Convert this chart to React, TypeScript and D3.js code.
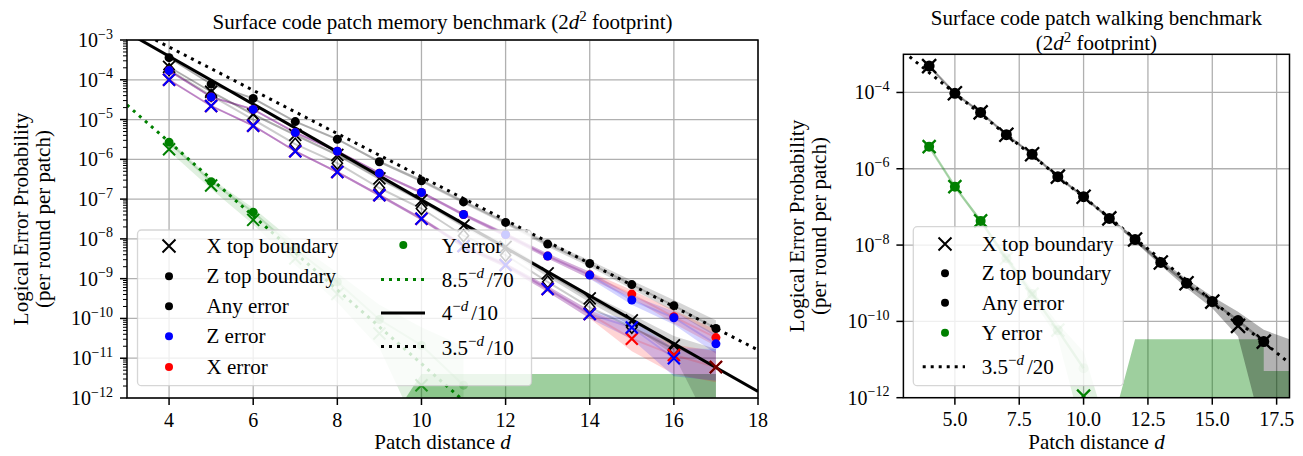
import React from 'react';
import * as d3 from 'd3';

const FONT = "'Liberation Serif', 'DejaVu Serif', serif";

// ---------- Left panel (memory benchmark) ----------
const distL = [4, 5, 6, 7, 8, 9, 10, 11, 12, 13, 14, 15, 16, 17];
// Z top boundary experiment
const anyZTop = [3.6e-4, 7.8e-5, 3.4e-5, 8.9e-6, 3.2e-6, 8.7e-7, 2.9e-7, 8.5e-8, 2.6e-8, 7.4e-9, 2.4e-9, 7.1e-10, 2.1e-10, 5.6e-11];
const anyZTopLo = [3.4e-4, 7.4e-5, 3.2e-5, 8.4e-6, 3.0e-6, 8.1e-7, 2.6e-7, 7.6e-8, 2.3e-8, 6.3e-9, 2.0e-9, 5.5e-10, 1.5e-10, 3.5e-11];
const anyZTopHi = [3.8e-4, 8.2e-5, 3.6e-5, 9.4e-6, 3.4e-6, 9.3e-7, 3.2e-7, 9.5e-8, 2.9e-8, 8.6e-9, 2.9e-9, 9.0e-10, 2.9e-10, 9.0e-11];
const zErrZTop = [1.7e-4, 3.7e-5, 1.8e-5, 4.7e-6, 1.6e-6, 4.5e-7, 1.47e-7, 4.1e-8, 1.28e-8, 3.7e-9, 1.23e-9, 2.9e-10, 1.04e-10, 2.3e-11];
const zErrZTopLo = [1.6e-4, 3.5e-5, 1.7e-5, 4.4e-6, 1.5e-6, 4.2e-7, 1.35e-7, 3.7e-8, 1.12e-8, 3.2e-9, 1.0e-9, 2.2e-10, 7.0e-11, 1.3e-11];
const zErrZTopHi = [1.8e-4, 3.9e-5, 1.9e-5, 5.0e-6, 1.7e-6, 4.8e-7, 1.6e-7, 4.5e-8, 1.45e-8, 4.3e-9, 1.5e-9, 3.8e-10, 1.5e-10, 4.0e-11];
const xErrZTop = [1.7e-4, 3.7e-5, 1.8e-5, 4.7e-6, 1.6e-6, 4.5e-7, 1.47e-7, 4.1e-8, 1.28e-8, 3.7e-9, 1.25e-9, 4.1e-10, 1.1e-10, 3.3e-11];
const xErrZTopLo = [1.6e-4, 3.5e-5, 1.7e-5, 4.4e-6, 1.5e-6, 4.2e-7, 1.35e-7, 3.7e-8, 1.12e-8, 3.2e-9, 1.0e-9, 3.2e-10, 7.5e-11, 2.0e-11];
const xErrZTopHi = [1.8e-4, 3.9e-5, 1.9e-5, 5.0e-6, 1.7e-6, 4.8e-7, 1.6e-7, 4.5e-8, 1.45e-8, 4.3e-9, 1.5e-9, 5.2e-10, 1.6e-10, 5.2e-11];
// X top boundary experiment
const anyXTop = [2.1e-4, 5.0e-5, 1.35e-5, 4.1e-6, 1.3e-6, 3.3e-7, 9.3e-8, 2.2e-8, 6.3e-9, 1.35e-9, 3.2e-10, 9.0e-11, 2.1e-11, 6.0e-12];
const anyXTopLo = [2.0e-4, 4.7e-5, 1.25e-5, 3.8e-6, 1.2e-6, 3.0e-7, 8.3e-8, 1.9e-8, 5.3e-9, 1.1e-9, 2.5e-10, 6.5e-11, 1.2e-11, 1e-13];
const anyXTopHi = [2.2e-4, 5.3e-5, 1.45e-5, 4.4e-6, 1.4e-6, 3.6e-7, 1.04e-7, 2.5e-8, 7.4e-9, 1.65e-9, 4.1e-10, 1.25e-10, 3.6e-11, 1.7e-11];
const diamXTop = [1.8e-4, 4.0e-5, 1.0e-5, 2.4e-6, 8.0e-7, 1.9e-7, 5.8e-8, 1.2e-8, 3.9e-9, 8.3e-10, 1.9e-10, 6.0e-11, 1.7e-11, null];
const zErrXTop = [1.0e-4, 2.2e-5, 7.0e-6, 1.6e-6, 4.8e-7, 1.26e-7, 3.2e-8, 6.6e-9, 2.2e-9, 5.5e-10, 1.29e-10, 5.9e-11, 1.0e-11, null];
const zErrXTopLo = [9.5e-5, 2.1e-5, 6.6e-6, 1.5e-6, 4.5e-7, 1.15e-7, 2.9e-8, 5.8e-9, 1.9e-9, 4.6e-10, 1.0e-10, 3.0e-11, 3.5e-12, 2.7e-12];
const zErrXTopHi = [1.05e-4, 2.3e-5, 7.4e-6, 1.7e-6, 5.1e-7, 1.37e-7, 3.5e-8, 7.4e-9, 2.5e-9, 6.5e-10, 1.6e-10, 9.0e-11, 1.8e-11, 1.7e-11];
const xErrXTop = [1.0e-4, 2.2e-5, 7.0e-6, 1.6e-6, 4.8e-7, 1.26e-7, 3.2e-8, 6.6e-9, 2.2e-9, 5.5e-10, 1.29e-10, 3.1e-11, 1.2e-11, 6.0e-12];
const xErrXTopLo = [9.5e-5, 2.1e-5, 6.6e-6, 1.5e-6, 4.5e-7, 1.15e-7, 2.9e-8, 5.8e-9, 1.9e-9, 4.6e-10, 1.0e-10, 1.5e-11, 4.0e-12, 2.5e-12];
const xErrXTopHi = [1.05e-4, 2.3e-5, 7.4e-6, 1.7e-6, 5.1e-7, 1.37e-7, 3.5e-8, 7.4e-9, 2.5e-9, 6.5e-10, 1.6e-10, 6.0e-11, 2.2e-11, 1.5e-11];
// Y error
const distYL = [4, 5, 6, 7, 8, 9, 10, 11];
const yErrDotL = [2.7e-6, 2.75e-7, 4.7e-8, 5.5e-9, 8.3e-10, 9.4e-11, 2.1e-11, 2.1e-12];
const yErrXL = [1.8e-6, 2.2e-7, 3.0e-8, 3.2e-9, 4.1e-10, 4.2e-11, 2.1e-12, null];
const yErrLoL = [1.6e-6, 1.8e-7, 2.3e-8, 2.2e-9, 2.5e-10, 1.8e-11, 1e-13, 1e-13];
const yErrHiL = [3.1e-6, 3.3e-7, 6.0e-8, 8.0e-9, 1.4e-9, 2.2e-10, 6.0e-11, 2.0e-11];
const distYBoundL = [9, 10, 11, 12, 13, 14, 15, 16, 17];
const yBoundHiL = [1e-13, 4e-12, 4e-12, 4e-12, 4e-12, 4e-12, 4e-12, 4e-12, 4e-12];

// ---------- Right panel (walking benchmark) ----------
const distR = [4, 5, 6, 7, 8, 9, 10, 11, 12, 13, 14, 15, 16, 17];
const anyR = [4.9e-4, 9.5e-5, 3.0e-5, 7.8e-6, 2.4e-6, 6.2e-7, 1.85e-7, 5.0e-8, 1.4e-8, 3.5e-9, 1.0e-9, 3.3e-10, 1.05e-10, 2.95e-11];
const xTopR = [4.9e-4, 9.5e-5, 3.0e-5, 7.8e-6, 2.4e-6, 6.2e-7, 1.85e-7, 5.0e-8, 1.4e-8, 3.5e-9, 1.0e-9, 3.3e-10, 7.6e-11, 2.95e-11];
const distBandR = [4, 5, 6, 7, 8, 9, 10, 11, 12, 13, 14, 15, 16, 17, 18];
const anyHiR = [5.1e-4, 9.9e-5, 3.1e-5, 8.1e-6, 2.5e-6, 6.5e-7, 1.95e-7, 5.4e-8, 1.6e-8, 4.2e-9, 1.3e-9, 4.5e-10, 1.8e-10, 6.0e-11, 3.4e-11];
const anyLoR = [4.7e-4, 9.1e-5, 2.9e-5, 7.5e-6, 2.3e-6, 5.9e-7, 1.75e-7, 4.6e-8, 1.2e-8, 2.9e-9, 7.5e-10, 2.2e-10, 4.0e-11, 1e-13, 1e-13];
const distYR = [4, 5, 6, 7, 8, 9, 10, 11];
const yErrDotR = [3.8e-6, 3.4e-7, 4.3e-8, 4.5e-9, 5.2e-10, 5.9e-11, 5.9e-12, null];
const yErrXR = [3.8e-6, 3.4e-7, 4.3e-8, 4.5e-9, 5.2e-10, 5.9e-11, 1.1e-12, null];
const yErrHiR = [4.0e-6, 3.6e-7, 4.8e-8, 5.5e-9, 7.0e-10, 9.0e-11, 1.6e-11, 1e-13];
const yErrLoR = [3.6e-6, 3.2e-7, 3.8e-8, 3.6e-9, 3.8e-10, 3.5e-11, 1e-13, 1e-13];
const distYBoundR = [11, 12, 17, 17, 18];
const yBoundHiR = [1e-13, 3.4e-11, 3.4e-11, 5e-12, 5e-12];

// ticks
const xTicksL = [4, 6, 8, 10, 12, 14, 16, 18];
const yExpL = [-12, -11, -10, -9, -8, -7, -6, -5, -4, -3];
const xTicksR = [5, 7.5, 10, 12.5, 15, 17.5];
const yExpR = [-12, -10, -8, -6, -4];

// styles
const yAlphaDotL = [1, 1, 1, 0.35, 0.35, 0.35, 0.35, 0.3];
const yAlphaXL = [1, 1, 1, 0.35, 0.35, 0.35, 0.8, 0];
const yAlphaDotR = [1, 1, 1, 0.25, 0.25, 0.25, 0.18, 0];
const yAlphaXR = [1, 1, 1, 0.25, 0.25, 0.25, 1, 0];
const GRID = '#b0b0b0';

type Sc = (v: number) => number;

function XMark({ x, y, s = 6, c = 'black', w = 2, o = 1 }: any) {
  return <path d={`M${x - s},${y - s}L${x + s},${y + s}M${x - s},${y + s}L${x + s},${y - s}`} stroke={c} strokeWidth={w} opacity={o} fill="none" />;
}
function Diam({ x, y, s = 6 }: any) {
  return <path d={`M${x},${y - s}L${x + s * 0.85},${y}L${x},${y + s}L${x - s * 0.85},${y}Z`} stroke="black" strokeWidth={1.6} fill="none" />;
}

function pathLine(xs: Sc, ys: Sc, ds: number[], vs: (number | null)[]) {
  const pts = ds.map((d, i) => [d, vs[i]] as [number, number | null]);
  return d3.line<[number, number | null]>()
    .defined(p => p[1] != null && (p[1] as number) > 0)
    .x(p => xs(p[0]))
    .y(p => ys(p[1] as number))(pts) || '';
}
function pathArea(xs: Sc, ys: Sc, ds: number[], lo: number[], hi: number[]) {
  const pts = ds.map((d, i) => [d, lo[i], hi[i]] as [number, number, number]);
  return d3.area<[number, number, number]>()
    .x(p => xs(p[0]))
    .y0(p => ys(p[1]))
    .y1(p => ys(p[2]))(pts) || '';
}

function YTick({ x, y, e }: any) {
  return (
    <text x={x} y={y + 7} textAnchor="end" fontSize={20}>
      10<tspan dy={-8.5} fontSize={14}>{'\u2212' + Math.abs(e)}</tspan>
    </text>
  );
}

function MathLbl({ x, y, base, tail }: any) {
  return (
    <text x={x} y={y} fontSize={21}>
      {base}
      <tspan dy={-9} fontSize={15}>{'\u2212'}</tspan>
      <tspan fontSize={15} fontStyle="italic">d</tspan>
      <tspan dy={9} dx={3}>{tail}</tspan>
    </text>
  );
}

export default function App() {
  const xL = d3.scaleLinear().domain([3, 18]).range([127, 758]);
  const yL = d3.scaleLog().domain([1e-12, 1e-3]).range([398, 40]);
  const xR = d3.scaleLinear().domain([3, 18]).range([903.4, 1289.5]);
  const yR = d3.scaleLog().domain([1e-12, 1e-3]).range([397.7, 54.3]);

  const fitD = [3, 18];
  const fit85 = fitD.map(d => Math.pow(8.5, -d) / 70);
  const fit4 = fitD.map(d => Math.pow(4, -d) / 10);
  const fit35 = fitD.map(d => Math.pow(3.5, -d) / 10);
  const fit35R = fitD.map(d => Math.pow(3.5, -d) / 20);

  const minorL: number[] = [];
  for (let e = -12; e < -3; e++) for (let m = 2; m <= 9; m++) minorL.push(m * Math.pow(10, e));

  const [lx0, lx1] = xL.range();
  const [ly0, ly1] = yL.range();
  const [rx0, rx1] = xR.range();
  const [ry0, ry1] = yR.range();

  const grey = 'rgba(0,0,0,0.2)';
  const blueA = 'rgba(0,0,255,0.15)';
  const redA = 'rgba(255,0,0,0.15)';

  return (
    <svg width={1303} height={456} style={{ position: 'absolute', left: 0, top: 0, background: '#fff', fontFamily: FONT }}>
      <defs>
        <clipPath id="clipL"><rect x={lx0} y={ly1} width={lx1 - lx0} height={ly0 - ly1} /></clipPath>
        <clipPath id="clipR"><rect x={rx0} y={ry1} width={rx1 - rx0} height={ry0 - ry1} /></clipPath>
      </defs>
      <rect width={1303} height={456} fill="#fff" />

      {/* ================= LEFT PANEL ================= */}
      <g>
        {xTicksL.map(t => <line key={'gx' + t} x1={xL(t)} x2={xL(t)} y1={ly1} y2={ly0} stroke={GRID} strokeWidth={1.3} />)}
        {yExpL.map(e => <line key={'gy' + e} x1={lx0} x2={lx1} y1={yL(Math.pow(10, e))} y2={yL(Math.pow(10, e))} stroke={GRID} strokeWidth={1.3} />)}
        <g clipPath="url(#clipL)">
          <path d={pathArea(xL, yL, distYL, yErrLoL, yErrHiL)} fill="rgba(0,128,0,0.12)" />
          <path d={pathArea(xL, yL, distYBoundL, distYBoundL.map(() => 1e-13), yBoundHiL)} fill="rgba(0,128,0,0.38)" />
          <path d={pathArea(xL, yL, distL, anyZTopLo, anyZTopHi)} fill="rgba(0,0,0,0.16)" />
          <path d={pathArea(xL, yL, distL, xErrZTopLo, xErrZTopHi)} fill="rgba(255,0,0,0.17)" />
          <path d={pathArea(xL, yL, distL, zErrZTopLo, zErrZTopHi)} fill="rgba(0,0,255,0.17)" />
          <path d={pathArea(xL, yL, distL, anyXTopLo, anyXTopHi)} fill="rgba(0,0,0,0.16)" />
          <path d={pathArea(xL, yL, distL, xErrXTopLo, xErrXTopHi)} fill="rgba(255,0,0,0.17)" />
          <path d={pathArea(xL, yL, distL, zErrXTopLo, zErrXTopHi)} fill="rgba(0,0,255,0.17)" />
          <path d={pathLine(xL, yL, distYL, yErrDotL)} stroke="rgba(0,128,0,0.18)" strokeWidth={2} fill="none" />
          <path d={pathLine(xL, yL, distL, anyZTop)} stroke={grey} strokeWidth={2} fill="none" />
          <path d={pathLine(xL, yL, distL, xErrZTop)} stroke={redA} strokeWidth={2} fill="none" />
          <path d={pathLine(xL, yL, distL, zErrZTop)} stroke={blueA} strokeWidth={2} fill="none" />
          <path d={pathLine(xL, yL, distL, anyXTop)} stroke={grey} strokeWidth={2} fill="none" />
          <path d={pathLine(xL, yL, distL, diamXTop)} stroke={grey} strokeWidth={2} fill="none" />
          <path d={pathLine(xL, yL, distL, xErrXTop)} stroke={redA} strokeWidth={2} fill="none" />
          <path d={pathLine(xL, yL, distL, zErrXTop)} stroke={blueA} strokeWidth={2} fill="none" />
          <path d={pathLine(xL, yL, fitD, fit85)} stroke="green" strokeWidth={3} strokeDasharray="3 5" fill="none" />
          <path d={pathLine(xL, yL, fitD, fit4)} stroke="black" strokeWidth={3} fill="none" />
          <path d={pathLine(xL, yL, fitD, fit35)} stroke="black" strokeWidth={3} strokeDasharray="3 5" fill="none" />
          {distYL.map((d, i) => yErrXL[i] != null ? <XMark key={'yx' + d} x={xL(d)} y={yL(yErrXL[i] as number)} c="green" o={yAlphaXL[i]} /> : null)}
          {distYL.map((d, i) => yErrDotL[i] != null ? <circle key={'yd' + d} cx={xL(d)} cy={yL(yErrDotL[i] as number)} r={4.5} fill="green" opacity={yAlphaDotL[i]} /> : null)}
          {distL.map((d, i) => diamXTop[i] != null ? <Diam key={'dm' + d} x={xL(d)} y={yL(diamXTop[i] as number)} /> : null)}
          {distL.map((d, i) => <XMark key={'ax' + d} x={xL(d)} y={yL(anyXTop[i])} c="black" w={1.8} />)}
          {distL.map((d, i) => <XMark key={'rx' + d} x={xL(d)} y={yL(xErrXTop[i])} c="red" w={2.2} />)}
          {distL.map((d, i) => zErrXTop[i] != null ? <XMark key={'bx' + d} x={xL(d)} y={yL(zErrXTop[i] as number)} c="blue" w={2.2} /> : null)}
          {distL.map((d, i) => i === distL.length - 1 ? <XMark key={'ax2' + d} x={xL(d)} y={yL(anyXTop[i])} c="rgba(0,0,0,0.6)" w={1.8} /> : null)}
          {distL.map((d, i) => <circle key={'rd' + d} cx={xL(d)} cy={yL(xErrZTop[i])} r={4.5} fill="red" />)}
          {distL.map((d, i) => <circle key={'bd' + d} cx={xL(d)} cy={yL(zErrZTop[i])} r={4.5} fill="blue" />)}
          {distL.map((d, i) => <circle key={'kd' + d} cx={xL(d)} cy={yL(anyZTop[i])} r={4.5} fill="black" />)}
        </g>
        <rect x={lx0} y={ly1} width={lx1 - lx0} height={ly0 - ly1} fill="none" stroke="black" strokeWidth={1.5} />
        {xTicksL.map(t => (
          <g key={'xt' + t}>
            <line x1={xL(t)} x2={xL(t)} y1={ly0} y2={ly0 + 7} stroke="black" strokeWidth={1.5} />
            <text x={xL(t)} y={ly0 + 28.5} textAnchor="middle" fontSize={20}>{t}</text>
          </g>
        ))}
        {yExpL.map(e => (
          <g key={'yt' + e}>
            <line x1={lx0 - 7} x2={lx0} y1={yL(Math.pow(10, e))} y2={yL(Math.pow(10, e))} stroke="black" strokeWidth={1.5} />
            <YTick x={lx0 - 14} y={yL(Math.pow(10, e))} e={e} />
          </g>
        ))}
        {minorL.map((v, i) => <line key={'mn' + i} x1={lx0 - 4} x2={lx0} y1={yL(v)} y2={yL(v)} stroke="black" strokeWidth={1} />)}
        <text x={(lx0 + lx1) / 2} y={28.5} textAnchor="middle" fontSize={21}>
          Surface code patch memory benchmark (2<tspan fontStyle="italic">d</tspan><tspan dy={-8} fontSize={15}>2</tspan><tspan dy={8}>{' footprint)'}</tspan>
        </text>
        <text x={(lx0 + lx1) / 2} y={449} textAnchor="middle" fontSize={21}>
          Patch distance <tspan fontStyle="italic">d</tspan>
        </text>
        <text transform={`translate(27.5,${(ly0 + ly1) / 2}) rotate(-90)`} textAnchor="middle" fontSize={21}>Logical Error Probability</text>
        <text transform={`translate(49.5,${(ly0 + ly1) / 2}) rotate(-90)`} textAnchor="middle" fontSize={21}>(per round per patch)</text>
        <rect x={137.5} y={230} width={394} height={155.7} rx={4} fill="rgba(255,255,255,0.8)" stroke="rgba(204,204,204,0.8)" strokeWidth={1.3} />
        <XMark x={169} y={246} s={6.5} c="black" w={2} />
        <text x={206.5} y={253} fontSize={21}>X top boundary</text>
        <circle cx={169} cy={276.3} r={4} fill="black" />
        <text x={206.5} y={283.3} fontSize={21}>Z top boundary</text>
        <circle cx={169} cy={306.3} r={4} fill="black" />
        <text x={206.5} y={313.3} fontSize={21}>Any error</text>
        <circle cx={169} cy={336.3} r={4} fill="blue" />
        <text x={206.5} y={343.3} fontSize={21}>Z error</text>
        <circle cx={169} cy={367} r={4} fill="red" />
        <text x={206.5} y={374} fontSize={21}>X error</text>
        <circle cx={403.3} cy={245} r={4} fill="green" />
        <text x={441.7} y={253} fontSize={21}>Y error</text>
        <line x1={381} x2={425} y1={279.5} y2={279.5} stroke="green" strokeWidth={3} strokeDasharray="3 5" />
        <MathLbl x={441.7} y={286.7} base="8.5" tail="/70" />
        <line x1={381} x2={425} y1={313} y2={313} stroke="black" strokeWidth={3} />
        <MathLbl x={441.7} y={320} base="4" tail="/10" />
        <line x1={381} x2={425} y1={346.5} y2={346.5} stroke="black" strokeWidth={3} strokeDasharray="3 5" />
        <MathLbl x={441.7} y={355} base="3.5" tail="/10" />
      </g>

      {/* ================= RIGHT PANEL ================= */}
      <g>
        {xTicksR.map(t => <line key={'rgx' + t} x1={xR(t)} x2={xR(t)} y1={ry1} y2={ry0} stroke={GRID} strokeWidth={1.3} />)}
        {yExpR.map(e => <line key={'rgy' + e} x1={rx0} x2={rx1} y1={yR(Math.pow(10, e))} y2={yR(Math.pow(10, e))} stroke={GRID} strokeWidth={1.3} />)}
        <g clipPath="url(#clipR)">
          <path d={pathArea(xR, yR, distYR, yErrLoR, yErrHiR)} fill="rgba(0,128,0,0.12)" />
          <path d={pathArea(xR, yR, distYBoundR, distYBoundR.map(() => 1e-13), yBoundHiR)} fill="rgba(0,128,0,0.38)" />
          <path d={pathArea(xR, yR, distBandR, anyLoR, anyHiR)} fill="rgba(0,0,0,0.3)" />
          <path d={pathLine(xR, yR, distYR, yErrDotR)} stroke="rgba(0,128,0,0.3)" strokeWidth={2.5} fill="none" />
          <path d={pathLine(xR, yR, distR, anyR)} stroke="rgba(0,0,0,0.3)" strokeWidth={2.5} fill="none" />
          <path d={pathLine(xR, yR, fitD, fit35R)} stroke="black" strokeWidth={3} strokeDasharray="3 5" fill="none" />
          {distYR.map((d, i) => yErrDotR[i] != null ? <circle key={'ryd' + d} cx={xR(d)} cy={yR(yErrDotR[i] as number)} r={5} fill="green" opacity={yAlphaDotR[i]} /> : null)}
          {distYR.map((d, i) => yErrXR[i] != null ? <XMark key={'ryx' + d} x={xR(d)} y={yR(yErrXR[i] as number)} s={6.5} c="green" w={2.3} o={yAlphaXR[i]} /> : null)}
          {distR.map((d, i) => <circle key={'rkd' + d} cx={xR(d)} cy={yR(anyR[i])} r={5.5} fill="black" />)}
          {distR.map((d, i) => <XMark key={'rkx' + d} x={xR(d)} y={yR(xTopR[i])} s={7} c="black" w={2.3} />)}
        </g>
        <rect x={rx0} y={ry1} width={rx1 - rx0} height={ry0 - ry1} fill="none" stroke="black" strokeWidth={1.5} />
        {xTicksR.map(t => (
          <g key={'rxt' + t}>
            <line x1={xR(t)} x2={xR(t)} y1={ry0} y2={ry0 + 7} stroke="black" strokeWidth={1.5} />
            <text x={xR(t)} y={ry0 + 28.5} textAnchor="middle" fontSize={20}>{t.toFixed(1)}</text>
          </g>
        ))}
        {yExpR.map(e => (
          <g key={'ryt' + e}>
            <line x1={rx0 - 7} x2={rx0} y1={yR(Math.pow(10, e))} y2={yR(Math.pow(10, e))} stroke="black" strokeWidth={1.5} />
            <YTick x={rx0 - 14} y={yR(Math.pow(10, e))} e={e} />
          </g>
        ))}
        <text x={(rx0 + rx1) / 2} y={25} textAnchor="middle" fontSize={21}>Surface code patch walking benchmark</text>
        <text x={(rx0 + rx1) / 2} y={49.5} textAnchor="middle" fontSize={21}>
          (2<tspan fontStyle="italic">d</tspan><tspan dy={-8} fontSize={15}>2</tspan><tspan dy={8}>{' footprint)'}</tspan>
        </text>
        <text x={(rx0 + rx1) / 2} y={449} textAnchor="middle" fontSize={21}>
          Patch distance <tspan fontStyle="italic">d</tspan>
        </text>
        <text transform={`translate(804,${(ry0 + ry1) / 2}) rotate(-90)`} textAnchor="middle" fontSize={21}>Logical Error Probability</text>
        <text transform={`translate(826,${(ry0 + ry1) / 2}) rotate(-90)`} textAnchor="middle" fontSize={21}>(per round per patch)</text>
        <rect x={913.3} y={226.7} width={210} height={159} rx={4} fill="rgba(255,255,255,0.8)" stroke="rgba(204,204,204,0.8)" strokeWidth={1.3} />
        <XMark x={945} y={244} s={6.5} c="black" w={2} />
        <text x={981.7} y={250.5} fontSize={21}>X top boundary</text>
        <circle cx={945} cy={273.3} r={4} fill="black" />
        <text x={981.7} y={280} fontSize={21}>Z top boundary</text>
        <circle cx={945} cy={302.7} r={4} fill="black" />
        <text x={981.7} y={309.5} fontSize={21}>Any error</text>
        <circle cx={945} cy={332.7} r={4} fill="green" />
        <text x={981.7} y={340} fontSize={21}>Y error</text>
        <line x1={922.7} x2={965} y1={366.7} y2={366.7} stroke="black" strokeWidth={3} strokeDasharray="3 5" />
        <MathLbl x={981.7} y={373.5} base="3.5" tail="/20" />
      </g>
    </svg>
  );
}
